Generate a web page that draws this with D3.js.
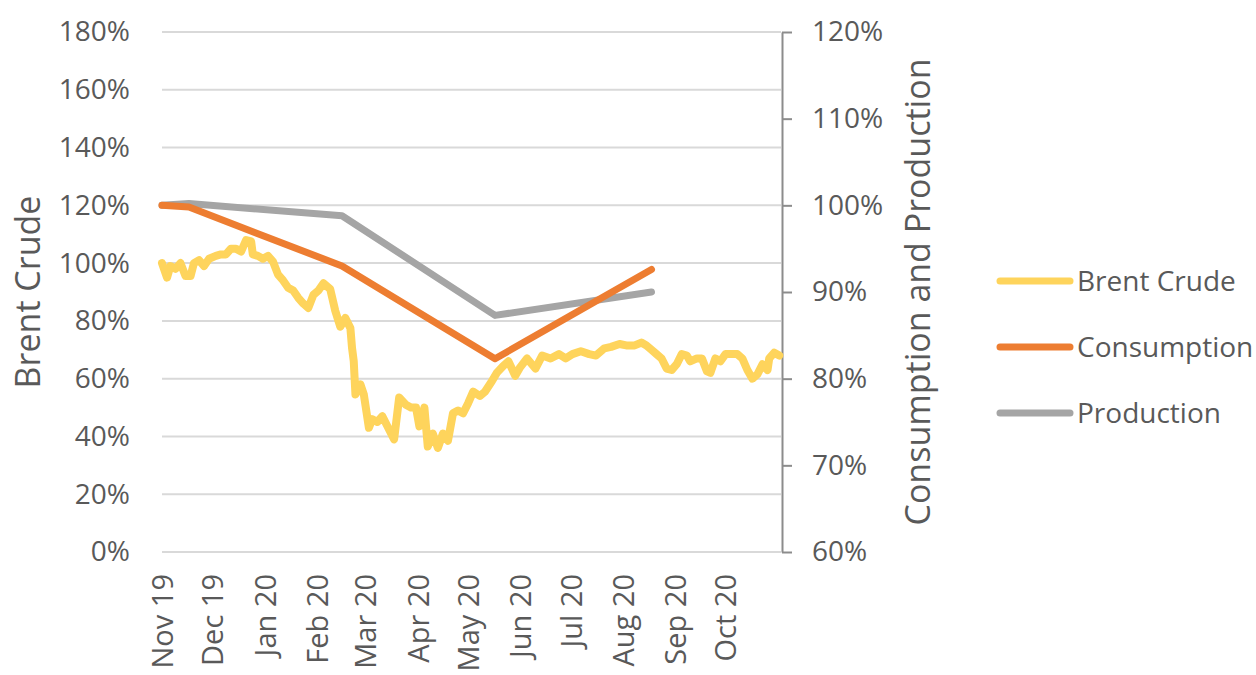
<!DOCTYPE html>
<html>
<head>
<meta charset="utf-8">
<script src="https://cdn.jsdelivr.net/npm/d3@7"></script>
<style>
  html, body { margin: 0; padding: 0; background: #ffffff; }
  svg { display: block; }
</style>
</head>
<body>
<svg id="chart" width="1256" height="675"></svg>
<script>
// ---------- DATA ----------
const brentDates = [
  "2019-11-01","2019-11-04","2019-11-06","2019-11-09","2019-11-12","2019-11-15","2019-11-18","2019-11-20",
  "2019-11-23","2019-11-26","2019-11-29","2019-12-03","2019-12-06","2019-12-09","2019-12-12","2019-12-15",
  "2019-12-18","2019-12-21","2019-12-24","2019-12-25","2019-12-28","2019-12-31","2020-01-03","2020-01-06",
  "2020-01-09","2020-01-12","2020-01-15","2020-01-18","2020-01-21","2020-01-24","2020-01-27","2020-01-30",
  "2020-02-02","2020-02-05","2020-02-09","2020-02-12","2020-02-15","2020-02-18","2020-02-21","2020-02-22",
  "2020-02-23","2020-02-24","2020-02-27","2020-02-29","2020-03-03","2020-03-05","2020-03-08","2020-03-11",
  "2020-03-14","2020-03-18","2020-03-21","2020-03-25","2020-03-28","2020-03-31","2020-04-02","2020-04-05",
  "2020-04-07","2020-04-10","2020-04-13","2020-04-16","2020-04-19","2020-04-22","2020-04-25","2020-04-28",
  "2020-05-01","2020-05-04","2020-05-08","2020-05-11","2020-05-15","2020-05-18","2020-05-22","2020-05-25",
  "2020-05-29","2020-06-01","2020-06-05","2020-06-10","2020-06-14","2020-06-19","2020-06-24","2020-06-28",
  "2020-07-02","2020-07-07","2020-07-12","2020-07-16","2020-07-21","2020-07-25","2020-07-30","2020-08-03",
  "2020-08-08","2020-08-12","2020-08-15","2020-08-18","2020-08-21","2020-08-24","2020-08-27","2020-08-30",
  "2020-09-02","2020-09-05","2020-09-08","2020-09-10","2020-09-14","2020-09-17","2020-09-20","2020-09-22",
  "2020-09-25","2020-09-28","2020-10-01","2020-10-05","2020-10-08","2020-10-11","2020-10-14","2020-10-17",
  "2020-10-20","2020-10-23","2020-10-26","2020-10-27","2020-10-30","2020-11-02"
];
const brentValues = [
  100, 95, 99, 98, 100, 95.5, 95.5, 100,
  101, 99, 101.5, 102.5, 103, 103, 105, 105,
  104, 108, 107.5, 103, 102.5, 101.5, 102.5, 100.5,
  96, 94, 91.5, 90.5, 88, 86, 84.5, 89,
  90.5, 93, 91, 83.5, 78, 81, 77.5, 70.5,
  66, 54.5, 58, 54.5, 43, 46, 45, 47,
  43.5, 39, 53.5, 51, 50, 50, 43.5, 50,
  36.5, 41, 36, 41, 38.5, 48, 49, 48,
  51.5, 55.5, 54, 55.5, 59, 62, 64.5, 66,
  61, 64, 67, 63.5, 68, 67, 68.5, 67,
  68.5, 69.5, 68.5, 68, 70.5, 71, 72, 71.5,
  71.5, 72.5, 71.5, 70, 68.5, 67, 63.5, 63,
  65, 68.5, 68, 66, 67, 67, 62.5, 62,
  67, 66, 68.5, 68.5, 68.5, 67, 63, 60,
  61.5, 65, 63, 67, 69, 68
];

const cpDates = ["2019-11-01", "2019-11-17", "2020-02-16", "2020-05-17", "2020-08-18"];
const consumptionValues = [100, 99.8, 93.0, 82.3, 92.6];
const productionValues  = [100, 100.2, 98.8, 87.3, 90.0];

const xTickDates  = ["2019-11-01","2019-12-01","2020-01-01","2020-02-01","2020-03-01","2020-04-01",
                     "2020-05-01","2020-06-01","2020-07-01","2020-08-01","2020-09-01","2020-10-01"];
const xTickLabels = ["Nov 19","Dec 19","Jan 20","Feb 20","Mar 20","Apr 20",
                     "May 20","Jun 20","Jul 20","Aug 20","Sep 20","Oct 20"];
const leftTicks  = [0, 20, 40, 60, 80, 100, 120, 140, 160, 180];
const rightTicks = [60, 70, 80, 90, 100, 110, 120];

const seriesNames  = ["Brent Crude", "Consumption", "Production"];
const seriesColors = ["#FED45C", "#ED7D31", "#A5A5A5"];

// ---------- LAYOUT ----------
const svg = d3.select("#chart");
const pLeft = 162, pRight = 781, pTop = 32, pBottom = 552;
const parse = d3.timeParse("%Y-%m-%d");

const x = d3.scaleTime()
  .domain([parse("2019-11-01"), parse("2020-11-03")])
  .range([pLeft, pRight]);
const yL = d3.scaleLinear().domain([0, 180]).range([pBottom, pTop]);
const yR = d3.scaleLinear().domain([60, 120]).range([pBottom, pTop]);

const textColor = "#595959";
const font = "'Open Sans', sans-serif";

// gridlines
svg.append("g").selectAll("line").data(leftTicks).join("line")
  .attr("x1", pLeft).attr("x2", pRight)
  .attr("y1", d => yL(d)).attr("y2", d => yL(d))
  .attr("stroke", "#D9D9D9").attr("stroke-width", 2);

// left axis labels
const gL = svg.append("g").attr("transform", `translate(${pLeft},0)`)
  .call(d3.axisLeft(yL).tickValues(leftTicks).tickFormat(d => d + "%").tickSize(0).tickPadding(32));
gL.select(".domain").remove();
gL.selectAll("text").attr("fill", textColor).style("font-family", font).style("font-size", "28px");

// right axis
const gR = svg.append("g").attr("transform", `translate(${pRight + 1},0)`)
  .call(d3.axisRight(yR).tickValues(rightTicks).tickFormat(d => d + "%").tickSize(10).tickSizeOuter(0).tickPadding(20));
gR.select(".domain").attr("stroke", "#8C8C8C").attr("stroke-width", 2);
gR.selectAll(".tick line").attr("stroke", "#8C8C8C").attr("stroke-width", 2);
gR.selectAll("text").attr("fill", textColor).style("font-family", font).style("font-size", "28px");

// x axis labels (rotated)
const gX = svg.append("g").attr("transform", `translate(0,${pBottom})`)
  .call(d3.axisBottom(x).tickValues(xTickDates.map(parse))
        .tickFormat((d, i) => xTickLabels[i]).tickSize(0));
gX.select(".domain").remove();
gX.selectAll("text")
  .attr("fill", textColor)
  .style("font-family", font).style("font-size", "29px")
  .attr("text-anchor", "end")
  .attr("transform", "rotate(-90)")
  .attr("x", -22).attr("y", 0).attr("dy", "0.36em");

// axis titles
svg.append("text")
  .attr("transform", `translate(40,${(pTop + pBottom) / 2}) rotate(-90)`)
  .attr("text-anchor", "middle")
  .attr("fill", textColor).style("font-family", font).style("font-size", "34px")
  .text("Brent Crude");
svg.append("text")
  .attr("transform", `translate(930,${(pTop + pBottom) / 2}) rotate(-90)`)
  .attr("text-anchor", "middle")
  .attr("fill", textColor).style("font-family", font).style("font-size", "34px")
  .text("Consumption and Production");

// lines
const lineL = d3.line().x(d => x(d[0])).y(d => yL(d[1]));
const lineR = d3.line().x(d => x(d[0])).y(d => yR(d[1]));

const brent = brentDates.map((d, i) => [parse(d), brentValues[i]]);
const cons = cpDates.map((d, i) => [parse(d), consumptionValues[i]]);
const prod = cpDates.map((d, i) => [parse(d), productionValues[i]]);

svg.append("path").datum(brent).attr("d", lineL)
  .attr("fill", "none").attr("stroke", seriesColors[0]).attr("stroke-width", 8)
  .attr("stroke-linejoin", "round").attr("stroke-linecap", "round");
svg.append("path").datum(prod).attr("d", lineR)
  .attr("fill", "none").attr("stroke", seriesColors[2]).attr("stroke-width", 7)
  .attr("stroke-linejoin", "round").attr("stroke-linecap", "round");
svg.append("path").datum(cons).attr("d", lineR)
  .attr("fill", "none").attr("stroke", seriesColors[1]).attr("stroke-width", 7)
  .attr("stroke-linejoin", "round").attr("stroke-linecap", "round");

// legend
const legY = [281, 347, 413];
const leg = svg.append("g").selectAll("g").data(seriesNames).join("g")
  .attr("transform", (d, i) => `translate(1000,${legY[i]})`);
leg.append("line").attr("x1", 0).attr("x2", 70).attr("y1", 0).attr("y2", 0)
  .attr("stroke", (d, i) => seriesColors[i]).attr("stroke-width", 7).attr("stroke-linecap", "round");
leg.append("text").attr("x", 77).attr("dy", "0.35em")
  .attr("fill", textColor).style("font-family", font).style("font-size", "28px")
  .text(d => d);
</script>
</body>
</html>
